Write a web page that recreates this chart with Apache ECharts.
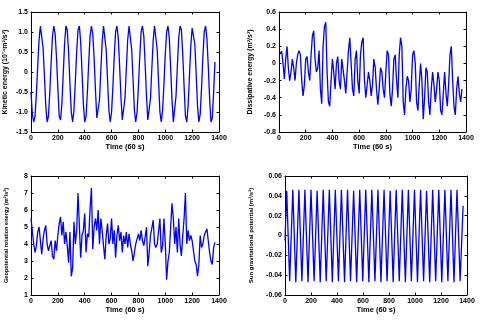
<!DOCTYPE html>
<html><head><meta charset="utf-8">
<script src="https://cdn.jsdelivr.net/npm/echarts@6/dist/echarts.min.js"></script>
<style>html,body{margin:0;padding:0;background:#fff}#c{width:488px;height:327px}</style>
</head><body><div id="c"></div>
<script>
const time = [0,10,20,30,40,50,60,70,80,90,100,110,120,130,140,150,160,170,180,190,200,210,220,230,240,250,260,270,280,290,300,310,320,330,340,350,360,370,380,390,400,410,420,430,440,450,460,470,480,490,500,510,520,530,540,550,560,570,580,590,600,610,620,630,640,650,660,670,680,690,700,710,720,730,740,750,760,770,780,790,800,810,820,830,840,850,860,870,880,890,900,910,920,930,940,950,960,970,980,990,1000,1010,1020,1030,1040,1050,1060,1070,1080,1090,1100,1110,1120,1130,1140,1150,1160,1170,1180,1190,1200,1210,1220,1230,1240,1250,1260,1270,1280,1290,1300,1310,1320,1330,1340,1350,1360,1370];
const kinetic = [-0.5,-1.05,-1.25,-1.1,-0.55,0.15,0.8,1.15,1.1,0.6,
-0.1,-0.85,-1.25,-1.1,-0.5,0.25,0.9,1.15,0.95,0.35,
-0.4,-1.1,-1.2,-0.8,-0.05,0.7,1.15,1.05,0.5,-0.3,
-1.0,-1.25,-0.95,-0.25,0.5,1.05,1.15,0.75,0.0,-0.8,
-1.25,-1.1,-0.5,0.25,0.9,1.15,0.95,0.35,-0.45,-1.15,
-1.2,-0.7,0.05,0.75,1.15,1.1,0.55,-0.2,-0.95,-1.25,
-1.0,-0.35,0.4,1.0,1.15,0.85,0.15,-0.65,-1.2,-1.2,
-0.65,0.1,0.8,1.15,1.1,0.55,-0.2,-0.95,-1.25,-1.0,
-0.35,0.4,1.0,1.15,0.9,0.2,-0.6,-1.2,-1.2,-0.65,
0.1,0.8,1.15,1.1,0.55,-0.25,-1.0,-1.25,-0.95,-0.3,
0.45,1.0,1.15,0.85,0.1,-0.7,-1.25,-1.2,-0.6,0.15,
0.85,1.15,1.05,0.45,-0.35,-1.1,-1.25,-0.85,-0.1,0.65,
1.1,1.15,0.7,-0.05,-0.85,-1.25,-1.05,-0.4,0.4,1.0,
1.15,0.85,0.15,-0.65,-1.25,-1.15,-0.5,0.25];
const dissipative = [0.1,0.12,0.14,0.0,-0.18,0.05,0.2,-0.05,-0.2,-0.1,
0.05,-0.05,-0.2,0.0,0.1,0.15,0.1,-0.2,-0.38,-0.25,
0.05,0.08,-0.1,-0.2,0.1,0.32,0.38,0.05,-0.1,-0.05,
0.15,-0.3,-0.47,0.2,0.43,0.48,-0.1,-0.45,-0.5,-0.2,
0.05,-0.1,-0.3,0.0,0.08,-0.2,-0.3,0.05,0.05,-0.2,
-0.35,-0.1,0.15,0.3,0.28,-0.3,-0.38,0.05,0.15,-0.2,
-0.35,0.1,0.25,0.3,-0.2,-0.4,-0.4,-0.1,-0.2,-0.38,
-0.25,0.05,-0.05,-0.3,-0.48,-0.3,-0.05,-0.1,-0.3,-0.4,
-0.1,0.15,0.1,-0.35,-0.5,-0.3,0.05,0.1,-0.2,-0.4,
0.1,0.3,0.2,-0.45,-0.6,-0.3,-0.15,-0.2,-0.45,-0.3,
0.1,0.15,0.0,-0.45,-0.55,-0.25,0.0,-0.2,-0.65,-0.4,
-0.05,-0.1,-0.45,-0.6,-0.3,-0.1,-0.25,-0.45,-0.3,-0.1,
-0.2,-0.55,-0.6,-0.35,-0.1,-0.35,-0.5,-0.25,0.1,0.2,
-0.2,-0.5,-0.6,-0.3,-0.15,-0.35,-0.45,-0.3];
const geopotential = [5.5,5.6,4.0,3.5,3.9,4.7,5.0,4.2,3.4,4.3,
4.8,5.1,4.0,3.6,3.6,4.2,3.3,3.1,4.2,3.6,
4.5,5.2,5.6,4.5,5.3,4.0,4.7,3.9,2.9,4.7,
2.1,2.6,5.3,4.0,4.8,7.0,6.9,3.2,4.5,4.8,
5.8,3.5,4.6,4.4,6.1,7.3,3.7,5.0,5.5,4.8,
6.0,4.0,5.5,4.8,3.9,3.1,4.5,5.2,4.0,4.3,
5.5,4.0,4.8,3.2,4.5,5.1,4.2,4.7,3.5,4.5,
4.0,4.7,3.8,4.6,4.0,3.6,3.0,2.9,4.0,4.3,
4.6,4.2,4.8,4.2,3.9,4.4,5.0,2.7,3.5,4.5,
4.4,5.4,4.0,3.8,4.0,4.0,5.5,3.5,3.9,5.5,
4.0,1.9,3.0,3.5,5.0,6.4,5.5,4.0,5.0,3.5,
5.5,4.0,3.3,4.5,5.5,7.0,4.0,4.8,4.2,4.5,
4.2,4.2,3.0,2.8,2.1,2.8,4.5,3.8,4.0,4.5,
4.7,4.9,4.9,3.5,3.0,2.8,3.8,4.1];
const sunTime = [0,13,36,60,83,107,130,153,177,200,224,247,271,294,317,341,364,387,411,434,458,481,504,528,551,575,598,621,645,668,692,715,738,762,785,809,832,855,879,902,926,949,972,996,1019,1043,1066,1089,1113,1136,1159,1183,1206,1230,1253,1277,1300,1323,1347,1370];
const sunPotential = [-0.005,0.045,-0.046,0.046,-0.047,0.046,-0.046,0.046,-0.047,0.046,-0.046,0.045,-0.047,0.046,-0.046,0.046,-0.047,0.046,-0.046,0.046,-0.047,0.046,-0.046,0.045,-0.047,0.046,-0.046,0.046,-0.047,0.046,-0.046,0.046,-0.047,0.046,-0.046,0.045,-0.047,0.046,-0.046,0.046,-0.047,0.046,-0.046,0.046,-0.047,0.046,-0.046,0.045,-0.047,0.046,-0.046,0.046,-0.047,0.046,-0.046,0.046,-0.047,0.046,-0.046,0.03];
const xTicks = [0,200,400,600,800,1000,1200,1400];
const xTitle = 'Time (60 s)';
const yTitles = ['Kinetic energy (10\u207B\u2074m\u00B2/s\u00B2)','Dissipative energy (m\u00B2/s\u00B2)','Geopotential rotation energy (m\u00B2/s\u00B2)','Sun gravitational potential (m\u00B2/s\u00B2)'];
const yRanges = [[-1.5,1.5,0.5,1],[-0.8,0.6,0.2,1],[1,8,1,0],[-0.06,0.06,0.02,2]];

const grids = [
  {left:31, top:12, width:188, height:120},
  {left:279, top:12, width:187, height:120},
  {left:31, top:176, width:188, height:119},
  {left:285, top:176, width:182, height:119}
];
const yGaps = [22, 25, 22, 31];
const yNameSizes = [7, 7, 5.6, 6];
const font = 'Liberation Sans, Arial, sans-serif';
const xAxes = [], yAxes = [], series = [];
const lineAxis = {show:true, onZero:false, lineStyle:{color:'#000', width:1}};
const tick = {inside:true, length:2.5, lineStyle:{color:'#000'}};
grids.forEach((g,i)=>{
  xAxes.push({gridIndex:i, type:'value', min:0, max:1400, interval:200, position:'bottom',
    axisLine:lineAxis, axisTick:tick,
    axisLabel:{color:'#000', fontSize:7, fontWeight:'bold', fontFamily:font, margin:3,
      formatter:v=>String(xTicks[xTicks.indexOf(v)] ?? v)},
    splitLine:{show:false}, name:xTitle, nameLocation:'middle', nameGap:9,
    nameTextStyle:{color:'#000', fontSize:7.5, fontWeight:'bold', fontFamily:font, verticalAlign:'top'}});
  xAxes.push({gridIndex:i, type:'value', min:0, max:1400, interval:200, position:'top',
    axisLine:lineAxis, axisTick:tick, axisLabel:{show:false}, splitLine:{show:false}});
  const r = yRanges[i];
  yAxes.push({gridIndex:i, type:'value', min:r[0], max:r[1], interval:r[2], position:'left',
    axisLine:lineAxis, axisTick:tick,
    axisLabel:{color:'#000', fontSize:7, fontWeight:'bold', fontFamily:font, margin:3,
      formatter:v=>Math.abs(v)<1e-9?'0':v.toFixed(r[3])},
    splitLine:{show:false}, name:yTitles[i], nameLocation:'middle', nameGap:yGaps[i], nameRotate:90,
    nameTextStyle:{color:'#000', fontSize:yNameSizes[i], fontWeight:'bold', fontFamily:font}});
  yAxes.push({gridIndex:i, type:'value', min:r[0], max:r[1], interval:r[2], position:'right',
    axisLine:lineAxis, axisTick:tick, axisLabel:{show:false}, splitLine:{show:false}});
});
const seriesData = [
  time.map((t,k)=>[t,kinetic[k]]),
  time.map((t,k)=>[t,dissipative[k]]),
  time.map((t,k)=>[t,geopotential[k]]),
  sunTime.map((t,k)=>[t,sunPotential[k]])
];
seriesData.forEach((d,i)=>{
  series.push({type:'line', xAxisIndex:2*i, yAxisIndex:2*i, data:d, showSymbol:false,
    lineStyle:{color:'#0000ff', width:1.3}, silent:true});
});
const chart = echarts.init(document.getElementById('c'), null, {renderer:'canvas'});
chart.setOption({animation:false, backgroundColor:'#fff', grid:grids, xAxis:xAxes, yAxis:yAxes, series:series});
</script></body></html>
